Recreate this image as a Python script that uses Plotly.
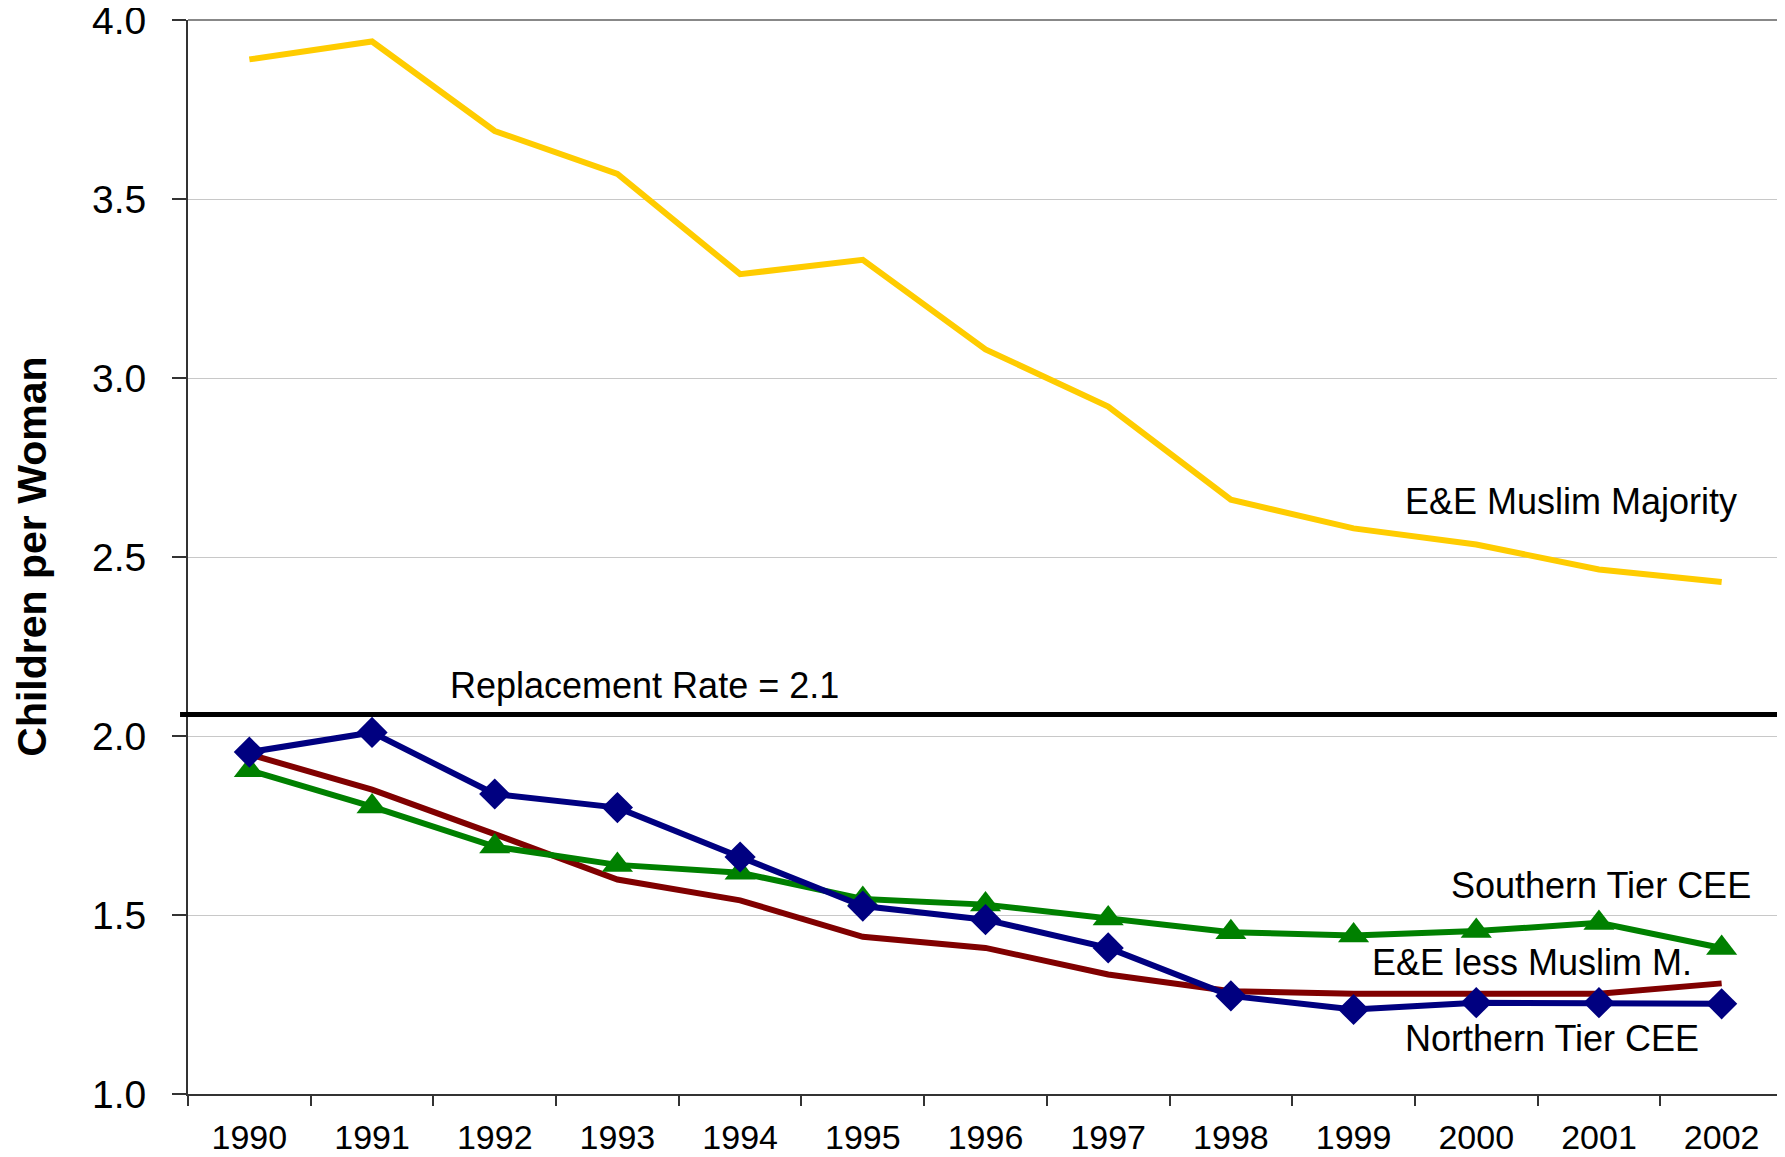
import plotly.graph_objects as go

years = ["1990", "1991", "1992", "1993", "1994", "1995", "1996",
         "1997", "1998", "1999", "2000", "2001", "2002"]

muslim_majority = [3.89, 3.94, 3.69, 3.57, 3.29, 3.33, 3.08, 2.92, 2.66, 2.58, 2.535, 2.465, 2.43]
northern_tier = [1.955, 2.01, 1.838, 1.80, 1.662, 1.525, 1.487, 1.408, 1.274, 1.236, 1.255, 1.255, 1.252]
southern_tier = [1.904, 1.803, 1.691, 1.64, 1.618, 1.545, 1.529, 1.49, 1.452, 1.443, 1.455, 1.478, 1.408]
less_muslim = [1.949, 1.85, 1.726, 1.599, 1.541, 1.439, 1.408, 1.334, 1.287, 1.28, 1.28, 1.28, 1.309]
replacement_rate = 2.06

y_ticks = [1.0, 1.5, 2.0, 2.5, 3.0, 3.5, 4.0]

FONT = "Liberation Sans, Arial, sans-serif"

fig = go.Figure()

fig.add_trace(go.Scatter(
    x=years, y=muslim_majority, mode="lines",
    line=dict(color="#FFCC00", width=6),
    name="E&E Muslim Majority"
))
fig.add_trace(go.Scatter(
    x=years, y=less_muslim, mode="lines",
    line=dict(color="#800000", width=6),
    name="E&E less Muslim M."
))
fig.add_trace(go.Scatter(
    x=years, y=southern_tier, mode="lines+markers",
    line=dict(color="#008000", width=6),
    marker=dict(symbol="triangle-up", size=27, color="#008000"),
    name="Southern Tier CEE"
))
fig.add_trace(go.Scatter(
    x=years, y=northern_tier, mode="lines+markers",
    line=dict(color="#000080", width=6),
    marker=dict(symbol="diamond", size=24, color="#000080"),
    name="Northern Tier CEE"
))

# replacement rate line, slightly sticking out past the y axis
fig.add_shape(type="line", xref="paper", yref="y",
              x0=-0.005, x1=1, y0=replacement_rate, y1=replacement_rate,
              line=dict(color="black", width=5), layer="above")

# grey frame on top and right
fig.add_shape(type="line", xref="paper", yref="paper", x0=0, x1=1, y0=1, y1=1,
              line=dict(color="#888888", width=2))
fig.add_shape(type="line", xref="paper", yref="paper", x0=1, x1=1, y0=0, y1=1,
              line=dict(color="#888888", width=2))

labels = [
    ("E&E Muslim Majority", 9.40, 2.655),
    ("Replacement Rate = 2.1", 1.62, 2.14),
    ("Southern Tier CEE", 9.78, 1.583),
    ("E&E less Muslim M.", 9.13, 1.366),
    ("Northern Tier CEE", 9.40, 1.155),
]
for text, xpos, ypos in labels:
    fig.add_annotation(x=xpos, y=ypos, xref="x", yref="y", text=text,
                       showarrow=False, xanchor="left", yanchor="middle",
                       font=dict(family=FONT, size=36, color="black"))

fig.add_annotation(x=-0.098, y=0.50, xref="paper", yref="paper",
                   text="<b>Children per Woman</b>", textangle=-90,
                   showarrow=False, xanchor="center", yanchor="middle",
                   font=dict(family=FONT, size=41, color="black"))

# page body has an 8px margin, so the figure is sized to fit inside the window
fig.update_layout(
    width=1777, height=1149,
    margin=dict(l=180, r=2, t=12, b=63, autoexpand=False),
    paper_bgcolor="white", plot_bgcolor="white",
    showlegend=False,
    font=dict(family=FONT, color="black"),
)

fig.update_xaxes(
    type="category", range=[-0.5, 12.5], automargin=False,
    tickson="boundaries", ticks="outside", ticklen=10, tickwidth=2, tickcolor="#333333",
    showline=True, linecolor="#333333", linewidth=2,
    showgrid=False, tickfont=dict(size=34, family=FONT),
    ticklabelstandoff=12,
)
fig.update_yaxes(
    range=[1.0, 4.0], tickvals=y_ticks, ticktext=[f"{v:.1f}" for v in y_ticks],
    automargin=False,
    ticks="outside", ticklen=14, tickwidth=2, tickcolor="#333333",
    showline=True, linecolor="#333333", linewidth=2,
    showgrid=True, gridcolor="#C8C8C8", gridwidth=1,
    zeroline=False, tickfont=dict(size=39, family=FONT),
    ticklabelstandoff=18, ticklabeloverflow="allow",
)

fig.write_html("out.html")
